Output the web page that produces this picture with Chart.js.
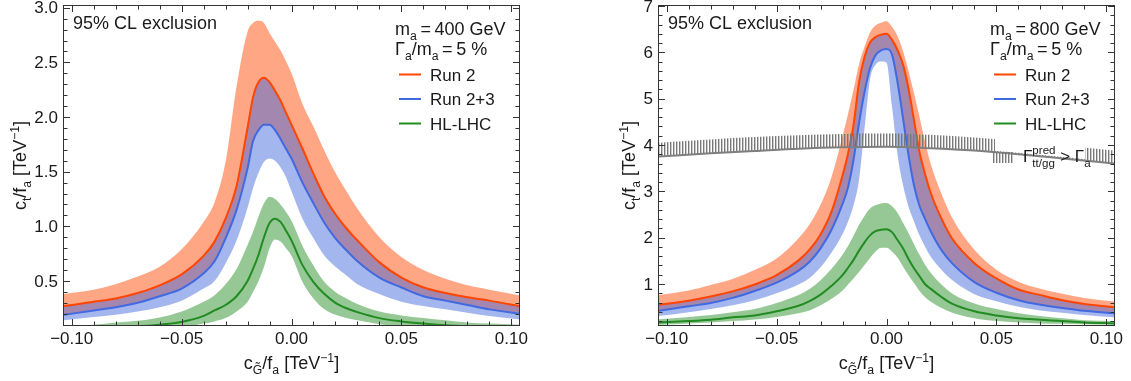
<!DOCTYPE html>
<html>
<head>
<meta charset="utf-8">
<script src="https://cdn.jsdelivr.net/npm/chart.js@4.4.0/dist/chart.umd.min.js"></script>
<style>
  html, body { margin: 0; padding: 0; background: #fff; }
  #wrap { position: relative; width: 1131px; height: 381px; }
  canvas { position: absolute; top: 0; }
  #c400 { left: 0; }
  #c800 { left: 565px; }
</style>
</head>
<body>
<div id="wrap">
  <canvas id="c400" width="560" height="381" style="width:560px;height:381px"></canvas>
  <canvas id="c800" width="566" height="381" style="width:566px;height:381px"></canvas>
</div>
<script>
// ---- m_a = 400 GeV (left panel) ----
const xLeft = [-0.1035, -0.09, -0.08, -0.07, -0.06, -0.05, -0.04, -0.035, -0.03, -0.025, -0.02, -0.0175, -0.015, -0.0125, -0.01, -0.0075, -0.005, -0.0025, 0, 0.005, 0.01, 0.015, 0.02, 0.025, 0.03, 0.04, 0.05, 0.06, 0.07, 0.08, 0.09, 0.1035];
const r2Left    = [0.27, 0.31, 0.34, 0.39, 0.46, 0.56, 0.73, 0.86, 1.07, 1.37, 1.90, 2.18, 2.32, 2.36, 2.32, 2.24, 2.15, 2.04, 1.93, 1.71, 1.48, 1.27, 1.11, 0.98, 0.87, 0.67, 0.53, 0.44, 0.39, 0.35, 0.32, 0.27];
const r2LeftHi  = [0.38, 0.42, 0.47, 0.54, 0.63, 0.79, 1.04, 1.22, 1.59, 2.28, 2.78, 2.86, 2.88, 2.86, 2.77, 2.69, 2.61, 2.51, 2.40, 2.12, 1.91, 1.69, 1.49, 1.32, 1.16, 0.90, 0.72, 0.60, 0.52, 0.46, 0.42, 0.37];
const r23Left   = [0.19, 0.23, 0.26, 0.30, 0.36, 0.43, 0.57, 0.68, 0.89, 1.15, 1.53, 1.78, 1.88, 1.93, 1.93, 1.88, 1.80, 1.71, 1.62, 1.40, 1.21, 1.03, 0.89, 0.78, 0.68, 0.53, 0.44, 0.36, 0.32, 0.28, 0.24, 0.20];
const r23LeftLo = [0.14, 0.17, 0.19, 0.22, 0.26, 0.32, 0.43, 0.50, 0.66, 0.87, 1.17, 1.35, 1.49, 1.59, 1.62, 1.60, 1.54, 1.45, 1.32, 1.07, 0.89, 0.73, 0.63, 0.55, 0.47, 0.38, 0.31, 0.27, 0.24, 0.21, 0.18, 0.15];
const hlLeft    = [0.06, 0.07, 0.075, 0.085, 0.10, 0.125, 0.18, 0.23, 0.28, 0.36, 0.50, 0.61, 0.74, 0.90, 1.03, 1.07, 1.04, 0.96, 0.87, 0.645, 0.49, 0.38, 0.30, 0.25, 0.215, 0.16, 0.13, 0.11, 0.095, 0.085, 0.075, 0.07];
const hlLeftHi  = [0.09, 0.10, 0.12, 0.135, 0.165, 0.22, 0.31, 0.37, 0.47, 0.61, 0.83, 0.95, 1.09, 1.21, 1.27, 1.25, 1.20, 1.13, 1.05, 0.82, 0.64, 0.49, 0.40, 0.34, 0.29, 0.22, 0.185, 0.16, 0.14, 0.12, 0.11, 0.10];
const hlLeftLo  = [0.03, 0.035, 0.04, 0.05, 0.06, 0.075, 0.11, 0.13, 0.16, 0.22, 0.31, 0.40, 0.50, 0.63, 0.80, 0.88, 0.86, 0.80, 0.73, 0.49, 0.34, 0.24, 0.19, 0.16, 0.14, 0.105, 0.085, 0.07, 0.06, 0.055, 0.05, 0.045];

// ---- m_a = 800 GeV (right panel) ----
const xRight = [-0.1035, -0.09, -0.08, -0.07, -0.06, -0.05, -0.04, -0.035, -0.03, -0.025, -0.02, -0.0175, -0.015, -0.0125, -0.01, -0.0075, -0.005, -0.0025, 0, 0.0025, 0.005, 0.0075, 0.01, 0.0125, 0.015, 0.0175, 0.02, 0.025, 0.03, 0.04, 0.05, 0.06, 0.07, 0.08, 0.09, 0.1035];
const r2Right    = [0.55, 0.64, 0.73, 0.84, 0.99, 1.19, 1.51, 1.74, 2.07, 2.56, 3.34, 3.81, 4.43, 5.35, 5.90, 6.21, 6.33, 6.38, 6.40, 6.27, 6.05, 5.74, 5.22, 4.54, 3.85, 3.38, 2.98, 2.41, 1.97, 1.45, 1.12, 0.88, 0.76, 0.65, 0.57, 0.50];
const r2RightHi  = [0.76, 0.86, 0.98, 1.11, 1.30, 1.55, 1.99, 2.29, 2.71, 3.31, 4.19, 4.67, 5.19, 5.75, 6.12, 6.43, 6.58, 6.64, 6.67, 6.55, 6.35, 6.03, 5.60, 5.12, 4.61, 4.08, 3.61, 2.95, 2.42, 1.74, 1.31, 1.05, 0.90, 0.79, 0.70, 0.62];
const r23Right   = [0.42, 0.52, 0.59, 0.70, 0.85, 1.03, 1.29, 1.48, 1.77, 2.17, 2.73, 3.09, 3.68, 4.47, 5.14, 5.66, 5.94, 6.04, 6.07, 5.95, 5.36, 4.58, 3.79, 3.13, 2.69, 2.41, 2.15, 1.73, 1.44, 1.04, 0.81, 0.65, 0.55, 0.48, 0.42, 0.37];
const r23RightLo = [0.31, 0.39, 0.46, 0.54, 0.65, 0.80, 0.99, 1.13, 1.36, 1.68, 2.08, 2.35, 2.70, 3.25, 4.36, 5.42, 5.73, 5.80, 5.78, 4.84, 3.80, 3.14, 2.67, 2.35, 2.05, 1.81, 1.60, 1.31, 1.08, 0.78, 0.63, 0.51, 0.43, 0.38, 0.33, 0.28];
const hlRight    = [0.17, 0.20, 0.23, 0.28, 0.32, 0.41, 0.53, 0.63, 0.77, 0.96, 1.19, 1.35, 1.52, 1.72, 1.90, 2.05, 2.14, 2.17, 2.18, 2.12, 1.95, 1.77, 1.54, 1.34, 1.17, 1.00, 0.90, 0.72, 0.57, 0.41, 0.32, 0.26, 0.23, 0.20, 0.17, 0.15];
const hlRightHi  = [0.24, 0.29, 0.33, 0.39, 0.46, 0.59, 0.76, 0.89, 1.08, 1.33, 1.63, 1.82, 2.04, 2.28, 2.47, 2.63, 2.70, 2.74, 2.75, 2.68, 2.54, 2.32, 2.10, 1.86, 1.63, 1.42, 1.25, 0.99, 0.79, 0.58, 0.46, 0.37, 0.31, 0.26, 0.22, 0.20];
const hlRightLo  = [0.12, 0.15, 0.17, 0.20, 0.235, 0.29, 0.37, 0.43, 0.54, 0.68, 0.86, 0.99, 1.12, 1.26, 1.41, 1.56, 1.70, 1.78, 1.78, 1.70, 1.57, 1.38, 1.19, 1.02, 0.85, 0.72, 0.62, 0.48, 0.38, 0.26, 0.20, 0.17, 0.15, 0.14, 0.13, 0.12];

// width bound Gamma_pred(tt/gg) > Gamma_a, hatched above the gray line
const widthX        = [-0.1035, -0.08, -0.06, -0.04, -0.02, 0, 0.02, 0.04, 0.06, 0.08, 0.1035];
const widthBound    = [3.75, 3.82, 3.87, 3.92, 3.95, 3.96, 3.93, 3.88, 3.80, 3.71, 3.60];
const widthHatchTop = [4.05, 4.12, 4.17, 4.21, 4.24, 4.25, 4.22, 4.16, 4.08, 3.99, 3.88];

// ---- axes ----
const xMajor = [-0.10, -0.05, 0, 0.05, 0.10];
const xTickLabels = ['\u22120.10', '\u22120.05', '0.00', '0.05', '0.10'];
const yMajorLeft = [0.5, 1.0, 1.5, 2.0, 2.5, 3.0];
const yTickLabelsLeft = ['0.5', '1.0', '1.5', '2.0', '2.5', '3.0'];
const yMajorRight = [1, 2, 3, 4, 5, 6, 7];
const yTickLabelsRight = ['1', '2', '3', '4', '5', '6', '7'];
const seriesNames = ['Run 2', 'Run 2+3', 'HL-LHC'];

const LINE = { r2: '#ff4500', r23: '#4169e1', hl: '#228b22' };
const BAND = { r2: 'rgba(255,69,0,0.48)', r23: 'rgba(60,100,219,0.47)', hl: 'rgba(34,139,34,0.48)' };
const FONT = '"Liberation Sans", Arial, Helvetica, sans-serif';
const INK = '#1a1a1a';

function fnt(size) { return size + 'px ' + FONT; }
const n = t => ({ t });
const sub = t => ({ t, k: 'sub' });
const sup = t => ({ t, k: 'sup' });

function partWidth(ctx, p, size) {
  const s = size * 0.68;
  if (p.up !== undefined) {
    ctx.font = fnt(s);
    return Math.max(ctx.measureText(p.up).width, ctx.measureText(p.down).width);
  }
  ctx.font = fnt(p.k ? s : size);
  return ctx.measureText(p.t).width;
}

// draw text with sub/superscripts, y is the baseline
function drawRich(ctx, parts, x, y, size, align) {
  let w = 0;
  parts.forEach(p => { w += partWidth(ctx, p, size); });
  let cx = align === 'center' ? x - w / 2 : (align === 'right' ? x - w : x);
  ctx.textAlign = 'left';
  ctx.textBaseline = 'alphabetic';
  ctx.fillStyle = INK;
  const s = size * 0.68;
  parts.forEach(p => {
    const pw = partWidth(ctx, p, size);
    if (p.up !== undefined) {
      ctx.font = fnt(s);
      ctx.fillText(p.up, cx, y - size * 0.45);
      ctx.fillText(p.down, cx, y + size * 0.32);
    } else {
      ctx.font = fnt(p.k ? s : size);
      const dy = p.k === 'sub' ? size * 0.28 : (p.k === 'sup' ? -size * 0.4 : 0);
      ctx.fillText(p.t, cx, y + dy);
    }
    cx += pw;
  });
}

function interp(xs, ys, v) {
  if (v <= xs[0]) return ys[0];
  for (let i = 1; i < xs.length; i++) {
    if (v <= xs[i]) {
      const f = (v - xs[i - 1]) / (xs[i] - xs[i - 1]);
      return ys[i - 1] + f * (ys[i] - ys[i - 1]);
    }
  }
  return ys[ys.length - 1];
}

function pts(xs, ys) { return xs.map((x, i) => ({ x: x, y: ys[i] })); }

const xTitle = [n('c'), sub('G\u0303'), n('/f'), sub('a'), n(' [TeV'), sup('\u22121'), n(']')];
const yTitle = [n('c'), sub('t'), n('/f'), sub('a'), n(' [TeV'), sup('\u22121'), n(']')];

function makeHatch() {
  const pc = document.createElement('canvas');
  pc.width = 3; pc.height = 4;
  const g = pc.getContext('2d');
  g.fillStyle = 'rgb(120,120,120)';
  g.fillRect(0, 0, 1, 4);
  g.fillStyle = 'rgba(120,120,120,0.4)';
  g.fillRect(1, 0, 1, 4);
  return g.createPattern(pc, 'repeat');
}

function buildPanel(p) {
  const hidden = 'rgba(0,0,0,0)';
  const base = { pointRadius: 0, cubicInterpolationMode: 'monotone', borderColor: hidden, borderWidth: 1, fill: false };
  const datasets = [
    { ...base, data: pts(p.xs, p.r2Hi), fill: { target: 5 }, backgroundColor: BAND.r2, order: 10 },
    { ...base, data: pts(p.xs, p.r23Lo), fill: { target: 4 }, backgroundColor: BAND.r23, order: 9 },
    { ...base, data: pts(p.xs, p.hlHi), fill: { target: 3 }, backgroundColor: BAND.hl, order: 8 },
    { ...base, data: pts(p.xs, p.hlLo), order: 7 },
    { ...base, data: pts(p.xs, p.r2), borderColor: LINE.r2, borderWidth: 2, order: 3 },
    { ...base, data: pts(p.xs, p.r23), borderColor: LINE.r23, borderWidth: 2, order: 2 },
    { ...base, data: pts(p.xs, p.hl), borderColor: LINE.hl, borderWidth: 2, order: 1 }
  ];
  if (p.widthBound) {
    datasets.push({ ...base, data: pts(widthX, widthHatchTop), fill: { target: 8 }, backgroundColor: makeHatch(), order: -1 });
    datasets.push({ ...base, data: pts(widthX, widthBound), borderColor: '#7f7f7f', borderWidth: 2, order: -2 });
  }

  const decor = {
    id: 'decor',
    afterDatasetsDraw(chart) {
      if (!p.widthBound) return;
      const { ctx, chartArea: a, scales: { x, y } } = chart;
      // white box behind the width-bound label
      const x0 = a.right - 119, x1 = a.right - 29;
      ctx.save();
      ctx.beginPath();
      ctx.moveTo(x0, a.top + 110);
      ctx.lineTo(x1, a.top + 110);
      for (let px = x1; px >= x0; px -= 2) {
        const v = interp(widthX, widthBound, x.getValueForPixel(px));
        ctx.lineTo(px, y.getPixelForValue(v) - 1.5);
      }
      ctx.closePath();
      ctx.fillStyle = '#fff';
      ctx.fill();
      ctx.restore();
    },
    afterDraw(chart) {
      const { ctx, chartArea: a, scales: { x, y } } = chart;
      ctx.save();
      // frame
      ctx.strokeStyle = '#333';
      ctx.lineWidth = 1;
      ctx.strokeRect(a.left - 0.5, a.top - 0.5, a.right - a.left + 1, a.bottom - a.top + 1);
      ctx.beginPath();
      for (let i = -10; i <= 10; i++) {
        const v = i / 100;
        const px = Math.round(x.getPixelForValue(v)) + 0.5;
        const len = i % 5 === 0 ? 6 : 3.5;
        ctx.moveTo(px, a.bottom); ctx.lineTo(px, a.bottom - len);
        ctx.moveTo(px, a.top); ctx.lineTo(px, a.top + len);
      }
      for (let i = 1; i <= p.yMinorCount; i++) {
        const v = i * p.yMinorStep;
        const py = Math.round(y.getPixelForValue(v)) + 0.5;
        if (py < a.top) continue;
        const len = i % 5 === 0 ? 6 : 3.5;
        ctx.moveTo(a.left, py); ctx.lineTo(a.left + len, py);
        ctx.moveTo(a.right, py); ctx.lineTo(a.right - len, py);
      }
      ctx.stroke();

      // tick labels
      ctx.fillStyle = INK;
      ctx.font = fnt(17);
      ctx.textAlign = 'center';
      ctx.textBaseline = 'alphabetic';
      xMajor.forEach((v, i) => ctx.fillText(xTickLabels[i], x.getPixelForValue(v), a.bottom + 19));
      ctx.textAlign = 'right';
      ctx.textBaseline = 'middle';
      p.yMajor.forEach((v, i) => ctx.fillText(p.yLabels[i], a.left - 6, y.getPixelForValue(v) + 1));

      // axis titles
      drawRich(ctx, xTitle, (a.left + a.right) / 2, a.bottom + 44, 18, 'center');
      ctx.save();
      ctx.translate(a.left + p.yTitleDx, (a.top + a.bottom) / 2);
      ctx.rotate(-Math.PI / 2);
      drawRich(ctx, yTitle, 0, 6, 18, 'center');
      ctx.restore();

      // labels and legend
      drawRich(ctx, [n('95% CL exclusion')], a.left + 9, a.top + 23, 18, 'left');
      drawRich(ctx, [n('m'), sub('a'), n('\u2009=\u2009' + p.mass + ' GeV')], a.right - 124, a.top + 29, 18, 'left');
      drawRich(ctx, [n('\u0393'), sub('a'), n('/m'), sub('a'), n('\u2009=\u20095 %')], a.right - 124, a.top + 49, 18, 'left');
      [LINE.r2, LINE.r23, LINE.hl].forEach((c, i) => {
        const ly = a.top + 68.5 + i * 24.5;
        ctx.strokeStyle = c;
        ctx.lineWidth = 2;
        ctx.beginPath();
        ctx.moveTo(a.right - 120, ly); ctx.lineTo(a.right - 98, ly);
        ctx.stroke();
        drawRich(ctx, [n(seriesNames[i])], a.right - 89, ly + 6, 17, 'left');
      });
      if (p.widthBound) {
        ctx.fillStyle = 'rgb(120,120,120)';
        for (let px = a.right - 121; px <= a.right - 102; px += 3) {
          ctx.fillRect(px, a.top + 146, 1.4, 11);
        }
        drawRich(ctx, [n('\u0393'), { up: 'pred', down: 'tt/gg' }, n(' > \u0393'), sub('a')], a.right - 91, a.top + 156, 17, 'left');
      }
      ctx.restore();
    }
  };

  new Chart(document.getElementById(p.canvas), {
    type: 'line',
    data: { datasets: datasets },
    options: {
      responsive: false,
      animation: false,
      events: [],
      layout: { padding: p.padding },
      plugins: { legend: { display: false }, tooltip: { enabled: false } },
      scales: {
        x: { type: 'linear', min: -0.1035, max: 0.1035, display: false },
        y: { type: 'linear', min: p.yMin, max: p.yMax, display: false }
      }
    },
    plugins: [decor]
  });
}

buildPanel({
  canvas: 'c400', xs: xLeft,
  r2: r2Left, r2Hi: r2LeftHi, r23: r23Left, r23Lo: r23LeftLo, hl: hlLeft, hlHi: hlLeftHi, hlLo: hlLeftLo,
  yMin: 0.097, yMax: 3.016, yMajor: yMajorLeft, yLabels: yTickLabelsLeft, yMinorStep: 0.1, yMinorCount: 30,
  mass: '400', yTitleDx: -44, widthBound: false,
  padding: { left: 64, top: 6, right: 41, bottom: 56 }
});

buildPanel({
  canvas: 'c800', xs: xRight,
  r2: r2Right, r2Hi: r2RightHi, r23: r23Right, r23Lo: r23RightLo, hl: hlRight, hlHi: hlRightHi, hlLo: hlRightLo,
  yMin: 0.115, yMax: 7.0, yMajor: yMajorRight, yLabels: yTickLabelsRight, yMinorStep: 0.2, yMinorCount: 35,
  mass: '800', yTitleDx: -30, widthBound: true,
  padding: { left: 94, top: 6, right: 17, bottom: 56 }
});
</script>
</body>
</html>
